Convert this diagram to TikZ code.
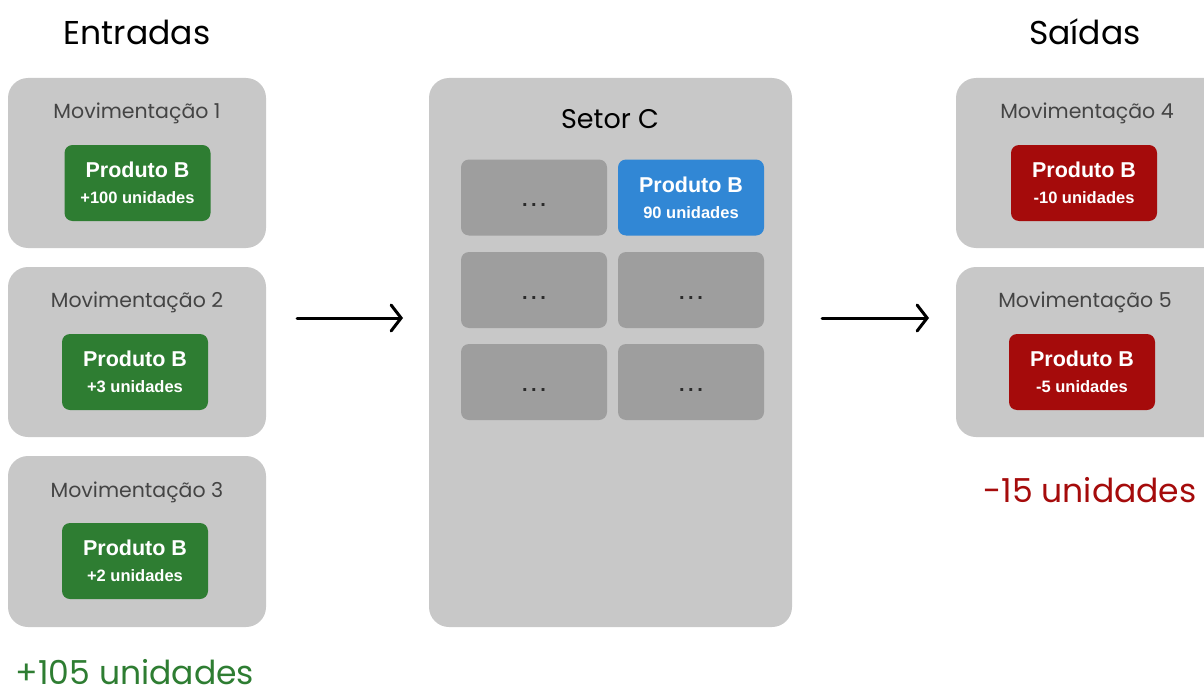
\documentclass[tikz,border=0pt]{standalone}
\usepackage{fontspec}
\setmainfont{Poppins}
\newfontfamily\boxfont{Liberation Sans}
\usetikzlibrary{arrows.meta}
\definecolor{panel}{HTML}{C8C8C8}
\definecolor{cell}{HTML}{9E9E9E}
\definecolor{ingreen}{HTML}{2E7D32}
\definecolor{outred}{HTML}{A50B0B}
\definecolor{stockblue}{HTML}{3187D5}
\definecolor{movtext}{HTML}{444444}
\definecolor{dots}{HTML}{2A2A2A}
\tikzset{
  panelbox/.style={fill=panel, rounded corners=20pt, draw=none},
  tagbox/.style={rounded corners=8pt, draw=none, minimum width=146pt, minimum height=76pt,
    inner sep=0pt, text=white, align=center,
    font=\boxfont\bfseries\fontsize{16.5}{26}\selectfont},
  cellbox/.style={fill=cell, rounded corners=8pt, draw=none, minimum width=146pt,
    minimum height=76pt, inner sep=0pt, text=dots,
    font=\boxfont\bfseries\fontsize{20}{20}\selectfont},
  movlabel/.style={text=movtext, font=\fontsize{20.5}{24}\selectfont},
  heading/.style={font=\fontsize{33}{38}\selectfont},
  total/.style={inner sep=0pt, font=\fontsize{33}{38}\selectfont},
  flow/.style={line width=3pt, line cap=round,
    -{Straight Barb[length=10pt, width=26pt, line width=3pt, line cap=round]}},
}
\newcommand{\tagtext}[1]{{\fontsize{21.5}{26}\selectfont Produto B}\\#1}
\newcommand{\celldots}{\smash{\raisebox{-9pt}{.\kern3.5pt.\kern3.5pt.}}}
\begin{document}
\begin{tikzpicture}[x=1pt, y=-1pt]
\useasboundingbox (0,0) rectangle (1204,690);
\clip (0,0) rectangle (1204,690);

% input column
\node[heading] (hin) at (137,32) {Entradas};
\fill[panelbox] (8,78) rectangle (266,248);
\fill[panelbox] (8,267) rectangle (266,437);
\fill[panelbox] (8,456) rectangle (266,627);
\node[movlabel] (m1) at (137,113) {Movimentação 1};
\node[movlabel] (m2) at (137,302) {Movimentação 2};
\node[movlabel] (m3) at (137,492) {Movimentação 3};
\node[tagbox, fill=ingreen] (g1) at (137.5,183) {\tagtext{+100 unidades}};
\node[tagbox, fill=ingreen] (g2) at (135,372) {\tagtext{+3 unidades}};
\node[tagbox, fill=ingreen] (g3) at (135,561) {\tagtext{+2 unidades}};
\node[total, text=ingreen] (tin) at (135,672) {+105 unidades};

% sector
\fill[panelbox] (429,78) rectangle (792,627);
\node[font=\fontsize{27}{32}\selectfont] (setor) at (610,119) {Setor C};
\node[cellbox] (c11) at (534,197.5) {\celldots};
\node[tagbox, fill=stockblue] (c12) at (691,197.5) {\tagtext{90 unidades}};
\node[cellbox] (c21) at (534,290) {\celldots};
\node[cellbox] (c22) at (691,290) {\celldots};
\node[cellbox] (c31) at (534,382) {\celldots};
\node[cellbox] (c32) at (691,382) {\celldots};

% output column
\node[heading] (hout) at (1085,32) {Saídas};
\fill[panelbox] (956,78) rectangle (1224,248);
\fill[panelbox] (956,267) rectangle (1224,437);
\node[movlabel] (m4) at (1087,113) {Movimentação 4};
\node[movlabel] (m5) at (1085,302) {Movimentação 5};
\node[tagbox, fill=outred] (r1) at (1084,183) {\tagtext{-10 unidades}};
\node[tagbox, fill=outred] (r2) at (1082,372) {\tagtext{-5 unidades}};
\node[total, text=outred] (tout) at (1090,490) {-15 unidades};

% flow arrows
\coordinate (a1s) at (297,318);
\coordinate (a1e) at (403,318);
\coordinate (a2s) at (822,318);
\coordinate (a2e) at (929,318);
\draw[flow] (a1s) -- (a1e);
\draw[flow] (a2s) -- (a2e);
\end{tikzpicture}
\end{document}
